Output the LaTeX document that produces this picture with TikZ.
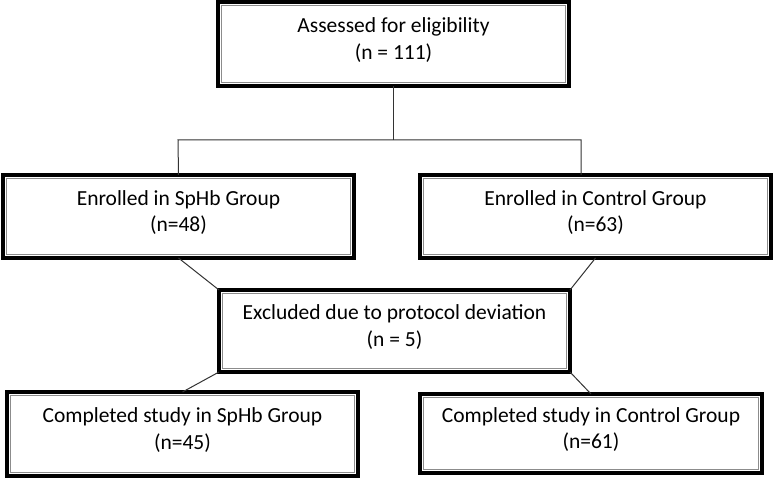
\documentclass[tikz,border=0pt]{standalone}
\usepackage{fontspec}
\setmainfont{Carlito}
\begin{document}
\begin{tikzpicture}[x=1pt,y=-1pt,
  flowbox/.style={draw=black, line width=4pt, outer sep=0pt, inner sep=0pt,
    rectangle, align=center, font=\fontsize{21.5}{26.5}\selectfont,
    text depth=11pt, minimum width=351pt},
  conn/.style={draw=black!80, line width=1pt},
  inner/.style={draw=black!45, line width=1.3pt}]
\useasboundingbox (0,0) rectangle (774,478);
\node[flowbox, minimum height=84pt] (top) at (393.5,44) {Assessed for eligibility\\(n = 111)};
\node[flowbox, minimum height=83pt] (sphb) at (178.5,216.5) {Enrolled in SpHb Group\\(n=48)};
\node[flowbox, minimum height=83pt] (ctrl) at (595.5,216.5) {Enrolled in Control Group\\(n=63)};
\node[flowbox, minimum height=82pt] (excl) at (394.5,331) {Excluded due to protocol deviation\\(n = 5)};
\node[flowbox, minimum height=84pt] (comps) at (182.5,434) {Completed study in SpHb Group\\(n=45)};
\node[flowbox, minimum height=79pt, minimum width=342pt] (compc) at (591,433.5) {Completed study in Control Group\\(n=61)};
\foreach \n in {top,sphb,ctrl,excl,comps,compc}{
  \draw[inner] ([shift={(3.8,3.8)}]\n.north west) rectangle ([shift={(-3.8,-3.8)}]\n.south east);
}
\coordinate (bl) at (178,140);
\coordinate (br) at (581,140);
\draw[conn] (top.south) -- (top.south |- bl);
\draw[conn] (sphb.north) -- (bl) -- (br) -- (br |- ctrl.north);
\draw[conn] (sphb.south) -- (excl.north west);
\draw[conn] (ctrl.south) -- (excl.north east);
\draw[conn] (excl.south west) -- (comps.north);
\draw[conn] (excl.south east) -- (compc.north);
\end{tikzpicture}
\end{document}
